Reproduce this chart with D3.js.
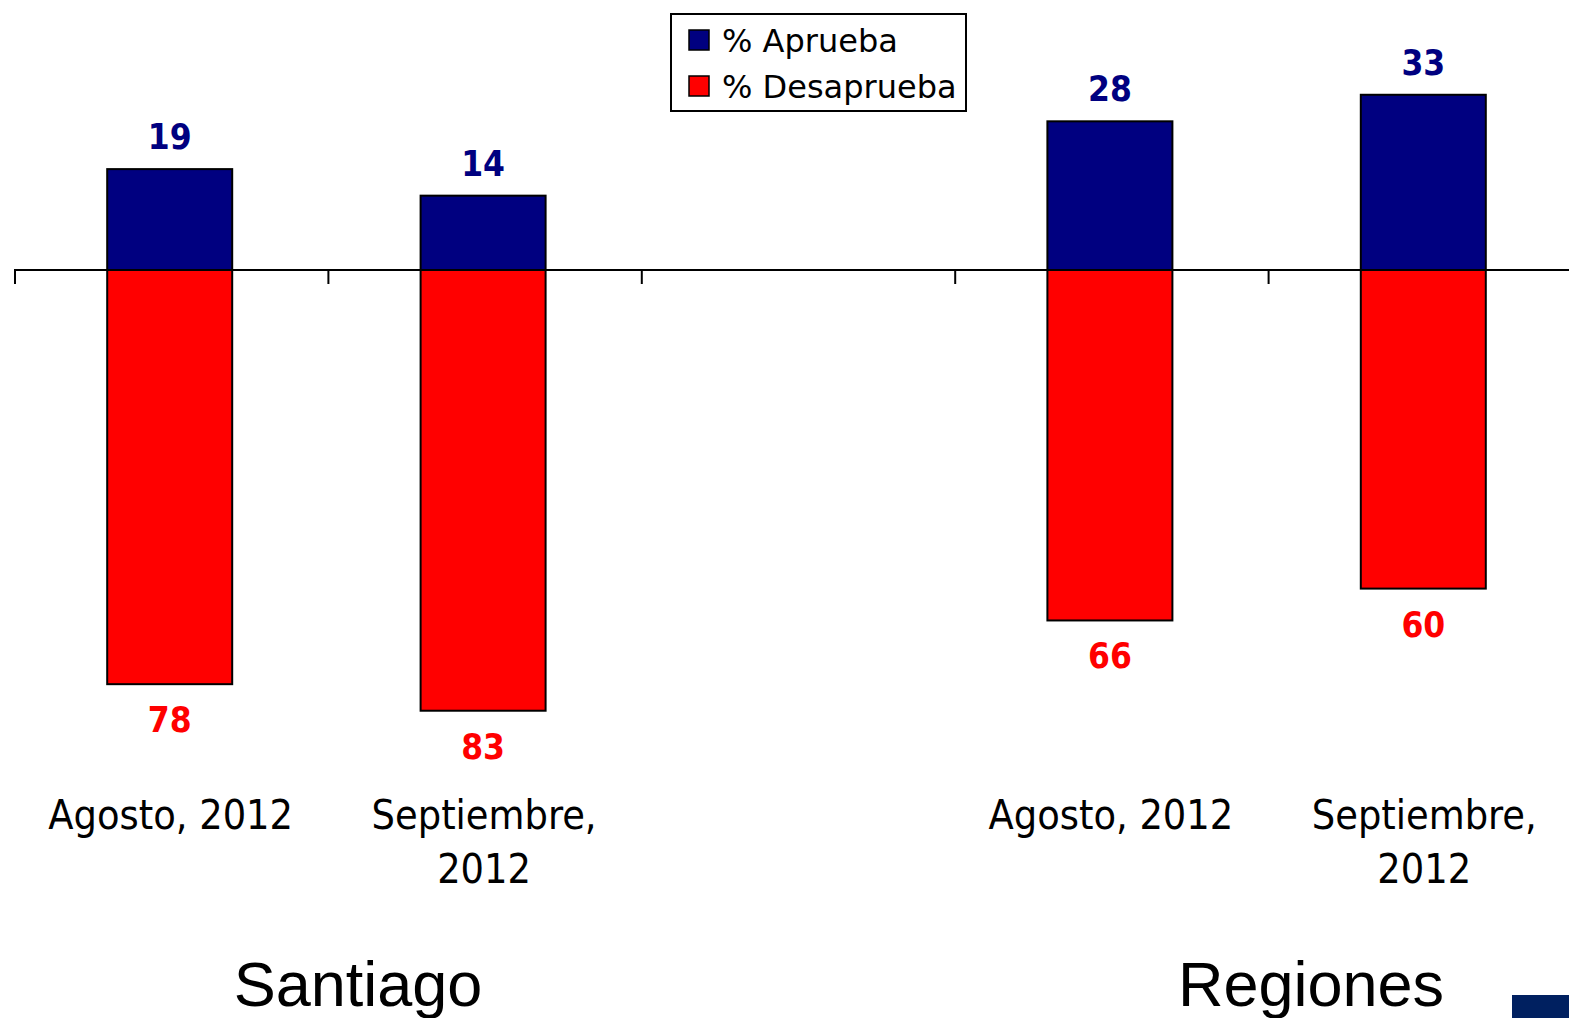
<!DOCTYPE html>
<html>
<head>
<meta charset="utf-8">
<title>Aprueba / Desaprueba</title>
<script src="https://d3js.org/d3.v7.min.js"></script>
<style>
  html, body { margin: 0; padding: 0; background: #fff; overflow: hidden; }
</style>
</head>
<body>
<div id="chart"></div>
<script>
// slots on the x axis (the middle one stays empty, it separates the two groups)
var slots = ["stgo_ago", "stgo_sep", "gap", "reg_ago", "reg_sep"];
var slotLabels = [["Agosto, 2012"], ["Septiembre,", "2012"], [], ["Agosto, 2012"], ["Septiembre,", "2012"]];
var aprueba = [19, 14, null, 28, 33];
var desaprueba = [78, 83, null, 66, 60];
var groups = ["Santiago", "Regiones"];
var legendLabels = ["% Aprueba", "% Desaprueba"];
var colors = ["#000080", "#ff0000"];

var W = 1569, H = 1018;
var zeroY = 270, pxPerUnit = 5.31;

var svg = d3.select("#chart").append("svg")
  .attr("width", W).attr("height", H);

var x = d3.scaleBand().domain(slots).range([14, 14 + 5 * 313.4]).padding(0);
var y = d3.scaleLinear().domain([-90, 50])
  .range([zeroY + 90 * pxPerUnit, zeroY - 50 * pxPerUnit]);

var barW = 125;
function cx(i) { return x(slots[i]) + x.bandwidth() / 2 - 1; }

var data = slots.map(function(s, i) {
  return {slot: s, i: i, up: aprueba[i], down: desaprueba[i]};
}).filter(function(d) { return d.up != null; });

// axis line + ticks at band edges
svg.append("line")
  .attr("x1", 14).attr("x2", W)
  .attr("y1", y(0)).attr("y2", y(0))
  .attr("stroke", "#000").attr("stroke-width", 2);
svg.selectAll(".tick").data(slots).enter().append("line")
  .attr("x1", function(d) { return x(d) + 1; })
  .attr("x2", function(d) { return x(d) + 1; })
  .attr("y1", y(0)).attr("y2", y(0) + 14)
  .attr("stroke", "#000").attr("stroke-width", 2);

// bars
svg.selectAll(".up").data(data).enter().append("rect")
  .attr("x", function(d) { return cx(d.i) - barW / 2; })
  .attr("y", function(d) { return y(d.up); })
  .attr("width", barW)
  .attr("height", function(d) { return y(0) - y(d.up); })
  .attr("fill", colors[0]).attr("stroke", "#000").attr("stroke-width", 2);

svg.selectAll(".down").data(data).enter().append("rect")
  .attr("x", function(d) { return cx(d.i) - barW / 2; })
  .attr("y", y(0))
  .attr("width", barW)
  .attr("height", function(d) { return y(-d.down) - y(0); })
  .attr("fill", colors[1]).attr("stroke", "#000").attr("stroke-width", 2);

// value labels
var valFont = "'DejaVu Sans Condensed', 'DejaVu Sans', sans-serif";
svg.selectAll(".vup").data(data).enter().append("text")
  .attr("x", function(d) { return cx(d.i); })
  .attr("y", function(d) { return y(d.up) - 20; })
  .attr("text-anchor", "middle")
  .style("font-family", valFont).style("font-weight", "bold").style("font-size", "35px")
  .attr("fill", colors[0])
  .text(function(d) { return d.up; });

svg.selectAll(".vdown").data(data).enter().append("text")
  .attr("x", function(d) { return cx(d.i); })
  .attr("y", function(d) { return y(-d.down) + 48; })
  .attr("text-anchor", "middle")
  .style("font-family", valFont).style("font-weight", "bold").style("font-size", "35px")
  .attr("fill", colors[1])
  .text(function(d) { return d.down; });

// category labels
slots.forEach(function(s, i) {
  slotLabels[i].forEach(function(line, j) {
    svg.append("text")
      .attr("x", cx(i) + 1)
      .attr("y", 829 + j * 54)
      .attr("text-anchor", "middle")
      .style("font-family", valFont).style("font-size", "41px")
      .attr("fill", "#000")
      .text(line);
  });
});

// group labels
var groupX = [358, 1311];
groups.forEach(function(g, i) {
  svg.append("text")
    .attr("x", groupX[i]).attr("y", 1006)
    .attr("text-anchor", "middle")
    .style("font-family", "'Liberation Sans', Arial, sans-serif").style("font-size", "63px")
    .attr("fill", "#000")
    .text(g);
});

// legend
var leg = svg.append("g");
leg.append("rect")
  .attr("x", 671).attr("y", 14).attr("width", 295).attr("height", 97)
  .attr("fill", "#fff").attr("stroke", "#000").attr("stroke-width", 2);
legendLabels.forEach(function(l, i) {
  leg.append("rect")
    .attr("x", 689).attr("y", 30 + i * 46).attr("width", 20).attr("height", 20)
    .attr("fill", colors[i]).attr("stroke", "#000").attr("stroke-width", 1.5);
  leg.append("text")
    .attr("x", 722).attr("y", 52 + i * 46)
    .style("font-family", "'DejaVu Sans', Verdana, sans-serif").style("font-size", "32px")
    .attr("fill", "#000")
    .text(l);
});

// corner decoration
svg.append("rect")
  .attr("x", 1512).attr("y", 995).attr("width", 57).attr("height", 23)
  .attr("fill", "#002060");
</script>
</body>
</html>
